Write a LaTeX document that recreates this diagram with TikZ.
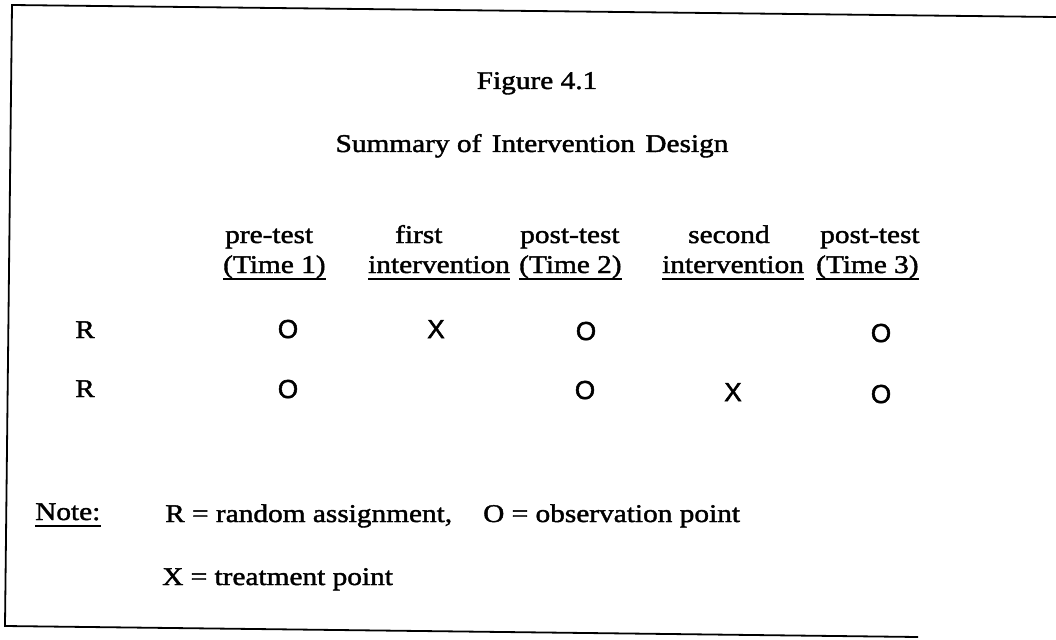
\documentclass[tikz,border=0pt]{standalone}
\usepackage{fontspec}
\setmainfont{Liberation Serif}[FakeStretch=1.15,FakeBold=1.6]
\newfontfamily\symfont{Liberation Sans}[FakeBold=2]
\begin{document}
\begin{tikzpicture}[x=1pt,y=-1pt,
  txt/.style={inner sep=0pt,anchor=base west,font=\fontsize{25.5}{30}\selectfont},
  ctr/.style={inner sep=0pt,anchor=base,font=\fontsize{25.5}{30}\selectfont},
  sym/.style={inner sep=0pt,anchor=base,font=\symfont\fontsize{26}{30}\selectfont},
  ul/.style={line width=1.5pt},
  frame/.style={line width=1.8pt}]
\useasboundingbox (0,0) rectangle (1056,639);
% frame (open on the right)
\coordinate (tr) at (1056,17);
\coordinate (tl) at (12,5);
\coordinate (bl) at (5,626);
\coordinate (br) at (918,637);
\draw[frame] (tr) -- (tl) -- (bl) -- (br);
% titles
\node[ctr] (fig) at (537,89) {Figure 4.1};
\node[ctr] (sum) at (532,152) {Summary of\hspace{3pt} Intervention\hspace{3pt} Design};
% headers
\node[txt] (h1a) at (225,243) {pre-test};
\node[txt] (h1b) at (223,273) {(Time 1)};
\node[txt] (h2a) at (395,243) {first};
\node[txt] (h2b) at (368,273) {intervention};
\node[txt] (h3a) at (520,243) {post-test};
\node[txt] (h3b) at (519,273) {(Time 2)};
\node[txt] (h4a) at (688,243) {second};
\node[txt] (h4b) at (662,273) {intervention};
\node[txt] (h5a) at (820,243) {post-test};
\node[txt] (h5b) at (816,273) {(Time 3)};
\foreach \n in {h1b,h2b,h3b,h4b,h5b}
  \draw[ul] ([yshift=-6pt]\n.base west) -- ([yshift=-6pt]\n.base east);
% rows
\node[txt] (r1) at (75,338) {R};
\node[txt] (r2) at (75,397) {R};
\node[sym] (o11) at (288,338) {O};
\node[sym] (x12) at (436,338) {X};
\node[sym] (o13) at (586,340) {O};
\node[sym] (o15) at (881,342) {O};
\node[sym] (o21) at (288,398) {O};
\node[sym] (o23) at (585,399) {O};
\node[sym] (x24) at (733,401) {X};
\node[sym] (o25) at (881,403) {O};
% note
\node[txt] (note) at (35,520) {Note:};
\draw[ul] ([yshift=-6pt]note.base west) -- ([yshift=-6pt]note.base east);
\node[txt] (n1) at (165,522) {R = random assignment,};
\node[txt] (n2) at (483,522) {O = observation point};
\node[txt] (n3) at (162,585) {X = treatment point};
\end{tikzpicture}
\end{document}
